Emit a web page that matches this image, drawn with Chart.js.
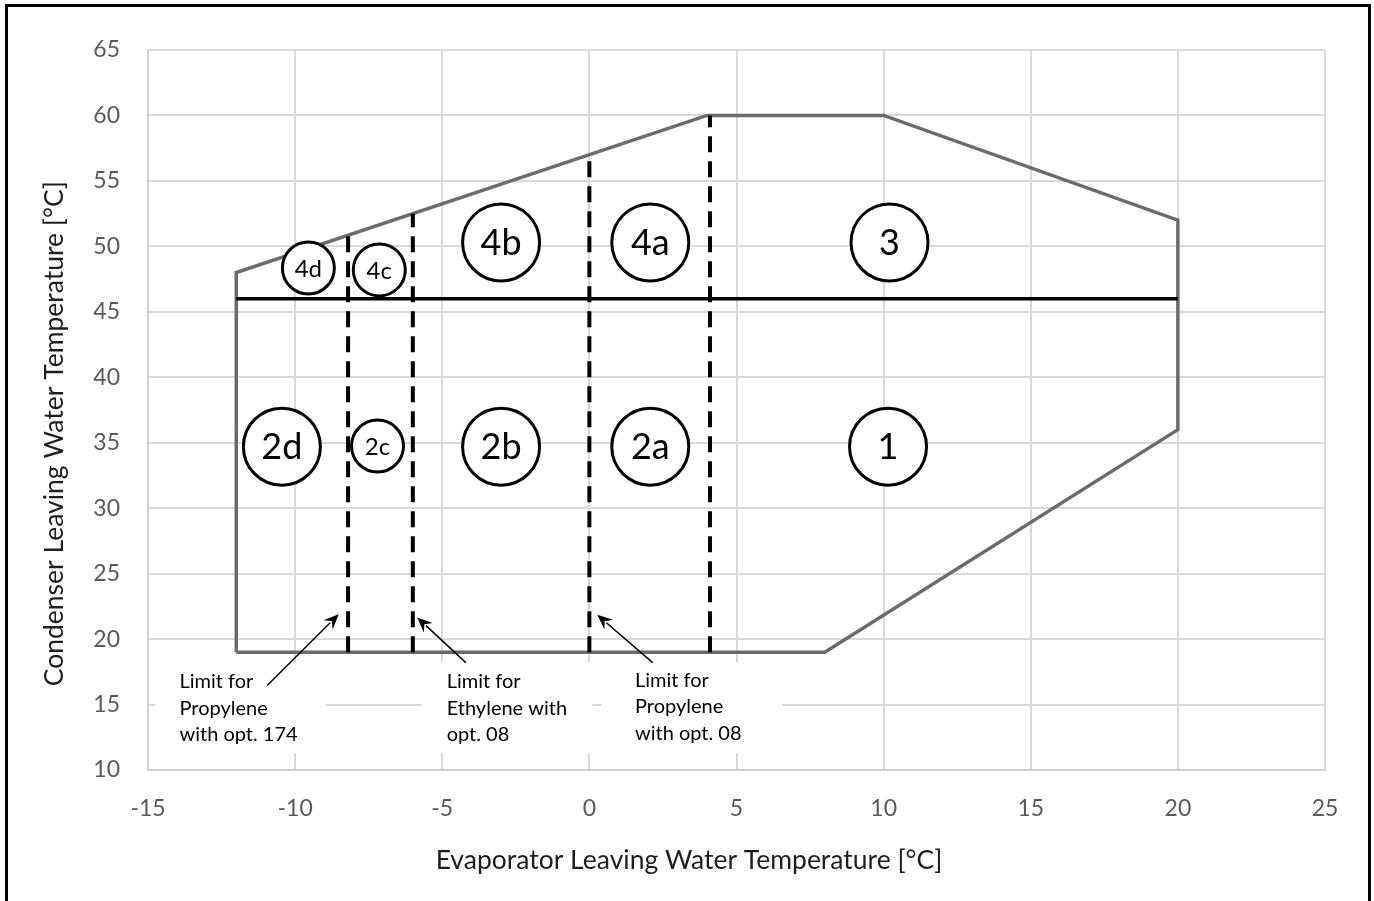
<!DOCTYPE html>
<html>
<head>
<meta charset="utf-8">
<script src="https://cdn.jsdelivr.net/npm/chart.js@4.4.1/dist/chart.umd.min.js"></script>
<style>
  html, body { margin: 0; padding: 0; background: #fff; }
  #wrap { position: relative; width: 1374px; height: 901px; overflow: hidden; }
  #frame { position: absolute; left: 5px; top: 4px; width: 1366px; height: 940px; box-sizing: border-box;
           border: 3px solid #000; pointer-events: none; }
  canvas { position: absolute; left: 0; top: 0; }
</style>
</head>
<body>
<div id="wrap">
  <canvas id="c" width="1374" height="901"></canvas>
  <div id="frame"></div>
</div>
<script>
// ---- axis ticks ----
const xTickValues = [-15, -10, -5, 0, 5, 10, 15, 20, 25];
const yTickValues = [10, 15, 20, 25, 30, 35, 40, 45, 50, 55, 60, 65];

// ---- operating envelope (evaporator LWT, condenser LWT) ----
const envelopeX = [-12, -12, 4, 10, 20, 20, 8, -12];
const envelopeY = [19, 48, 60, 60, 52, 36, 19, 19];

// ---- solid divider at 46 °C ----
const dividerX = [-12, 20];
const dividerY = [46, 46];

// ---- dashed glycol limit lines: x position, bottom, top ----
const limitX = [-8.2, -6, 0, 4.1];
const limitBottom = [19, 19, 19, 19];
const limitTop = [50.85, 52.5, 57, 60];

// ---- zone markers ----
const bigZoneLabels = ['4b', '4a', '3', '2d', '2b', '2a', '1'];
const bigZoneX = [-3.0, 2.07, 10.2, -10.45, -3.0, 2.07, 10.15];
const bigZoneY = [50.3, 50.3, 50.3, 34.7, 34.7, 34.7, 34.7];
const smallZoneLabels = ['4d', '4c', '2c'];
const smallZoneX = [-9.55, -7.14, -7.2];
const smallZoneY = [48.35, 48.2, 34.75];

// ---- annotation notes ----
const noteLines = [
  ['Limit for', 'Propylene', 'with opt. 174'],
  ['Limit for', 'Ethylene with', 'opt. 08'],
  ['Limit for', 'Propylene', 'with opt. 08']
];
const noteX = [-13.93, -4.85, 1.55];      // left edge of text
const noteY = [16.75, 16.75, 16.85];      // centre of first line
const noteBoxX0 = [-14.75, -5.68, 0.41];
const noteBoxX1 = [-8.96, 0.10, 6.56];
const noteBoxY0 = [11.3, 11.3, 11.3];
const noteBoxY1 = [18.2, 18.2, 18.2];
const arrowFromX = [-10.95, -4.2, 2.15];
const arrowFromY = [16.45, 18.2, 18.2];
const arrowToX = [-8.52, -5.85, 0.27];
const arrowToY = [21.9, 21.65, 21.85];

// axis titles (trailing no-break spaces shift the centred title like the original)
const xTitle = 'Evaporator Leaving Water Temperature [°C]' + '\u00a0'.repeat(14);
const yTitle = 'Condenser Leaving Water Temperature [°C]' + '\u00a0'.repeat(7);

const FONT = 'Lato, "Open Sans", "DejaVu Sans", sans-serif';

const pts = (xs, ys) => xs.map((x, i) => ({ x: x, y: ys[i] }));

const datasets = [];
datasets.push({
  label: 'small zones', data: pts(smallZoneX, smallZoneY), zoneLabels: smallZoneLabels, zoneFont: 24,
  pointRadius: 26, pointHoverRadius: 26, pointStyle: 'circle',
  backgroundColor: '#ffffff', borderColor: '#000000', borderWidth: 3, showLine: false
});
datasets.push({
  label: 'big zones', data: pts(bigZoneX, bigZoneY), zoneLabels: bigZoneLabels, zoneFont: 36,
  pointRadius: 38.5, pointHoverRadius: 38.5, pointStyle: 'circle',
  backgroundColor: '#ffffff', borderColor: '#000000', borderWidth: 3, showLine: false
});
limitX.forEach((x, i) => {
  datasets.push({
    label: 'limit ' + i, data: [{ x: x, y: limitBottom[i] }, { x: x, y: limitTop[i] }],
    showLine: true, borderColor: '#000000', borderWidth: 4, borderDash: [16, 9],
    pointRadius: 0, fill: false
  });
});
datasets.push({
  label: 'divider', data: pts(dividerX, dividerY), showLine: true,
  borderColor: '#000000', borderWidth: 3.5, pointRadius: 0, fill: false
});
datasets.push({
  label: 'envelope', data: pts(envelopeX, envelopeY), showLine: true,
  borderColor: '#6b6b6b', borderWidth: 3.5, pointRadius: 0, fill: false,
  borderJoinStyle: 'miter'
});

const notesBackPlugin = {
  id: 'notesBack',
  beforeDatasetsDraw(chart) {
    const { ctx, scales: { x, y } } = chart;
    ctx.save();
    ctx.fillStyle = '#ffffff';
    for (let i = 0; i < noteLines.length; i++) {
      const l = x.getPixelForValue(noteBoxX0[i]);
      const r = x.getPixelForValue(noteBoxX1[i]);
      const t = y.getPixelForValue(noteBoxY1[i]);
      const b = y.getPixelForValue(noteBoxY0[i]);
      ctx.fillRect(l, t, r - l, b - t);
    }
    ctx.restore();
  }
};

const labelsPlugin = {
  id: 'labels',
  afterDatasetsDraw(chart) {
    const { ctx, scales: { x, y } } = chart;
    ctx.save();
    // zone labels
    chart.data.datasets.forEach((ds, di) => {
      if (!ds.zoneLabels) return;
      const meta = chart.getDatasetMeta(di);
      ctx.font = ds.zoneFont + 'px ' + FONT;
      ctx.fillStyle = '#000';
      ctx.textAlign = 'center';
      ctx.textBaseline = 'middle';
      meta.data.forEach((pt, i) => {
        ctx.fillText(ds.zoneLabels[i], pt.x, pt.y + 1);
      });
    });
    // notes text
    ctx.font = '20px ' + FONT;
    ctx.fillStyle = '#000';
    ctx.textAlign = 'left';
    ctx.textBaseline = 'middle';
    for (let i = 0; i < noteLines.length; i++) {
      const px = x.getPixelForValue(noteX[i]);
      const py = y.getPixelForValue(noteY[i]);
      noteLines[i].forEach((line, k) => ctx.fillText(line, px, py + k * 26.5));
    }
    // arrows
    ctx.strokeStyle = '#000';
    ctx.lineWidth = 1.5;
    for (let i = 0; i < arrowFromX.length; i++) {
      const x0 = x.getPixelForValue(arrowFromX[i]);
      const y0 = y.getPixelForValue(arrowFromY[i]);
      const x1 = x.getPixelForValue(arrowToX[i]);
      const y1 = y.getPixelForValue(arrowToY[i]);
      const ang = Math.atan2(y1 - y0, x1 - x0);
      const hl = 15, hw = 6.5;
      const bx = x1 - hl * Math.cos(ang), by = y1 - hl * Math.sin(ang);
      ctx.beginPath();
      ctx.moveTo(x0, y0);
      ctx.lineTo(bx + 3 * Math.cos(ang), by + 3 * Math.sin(ang));
      ctx.stroke();
      ctx.beginPath();
      ctx.moveTo(x1, y1);
      ctx.lineTo(bx + hw * Math.sin(ang), by - hw * Math.cos(ang));
      ctx.lineTo(bx + 0.35 * hl * Math.cos(ang), by + 0.35 * hl * Math.sin(ang));
      ctx.lineTo(bx - hw * Math.sin(ang), by + hw * Math.cos(ang));
      ctx.closePath();
      ctx.fillStyle = '#000';
      ctx.fill();
    }
    ctx.restore();
  }
};

new Chart(document.getElementById('c'), {
  type: 'scatter',
  data: { datasets: datasets },
  plugins: [notesBackPlugin, labelsPlugin],
  options: {
    responsive: false,
    animation: false,
    devicePixelRatio: 1,
    layout: { padding: { top: 50, right: 49, left: 0, bottom: 0 } },
    plugins: { legend: { display: false }, tooltip: { enabled: false } },
    events: [],
    scales: {
      x: {
        type: 'linear', min: -15, max: 25,
        afterBuildTicks(s) { s.ticks = xTickValues.map(v => ({ value: v })); },
        afterFit(s) { s.height = 131; },
        ticks: { padding: 25, color: '#595959', font: { family: FONT, size: 23 } },
        grid: { color: '#d9d9d9', lineWidth: 2, drawTicks: false },
        border: { color: '#d0d0d0', width: 2 },
        title: { display: true, text: xTitle, color: '#1e1e1e',
                 font: { family: FONT, size: 26.5 }, padding: { top: 0, bottom: 25 } }
      },
      y: {
        type: 'linear', min: 10, max: 65,
        afterBuildTicks(s) { s.ticks = yTickValues.map(v => ({ value: v })); },
        afterFit(s) { s.width = 148; },
        ticks: { padding: 28, color: '#595959', font: { family: FONT, size: 23 } },
        grid: { color: '#d9d9d9', lineWidth: 2, drawTicks: false },
        border: { color: '#d0d0d0', width: 2 },
        title: { display: true, text: yTitle, color: '#1e1e1e',
                 font: { family: FONT, size: 26.5 }, padding: { top: 39, bottom: 0 } }
      }
    }
  }
});
</script>
</body>
</html>
